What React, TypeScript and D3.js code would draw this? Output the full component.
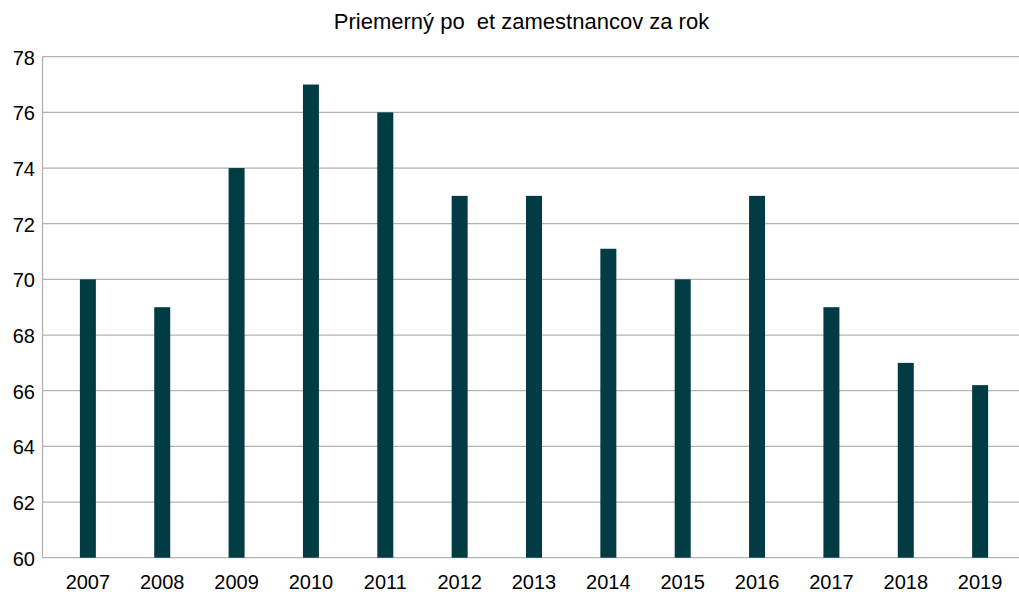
import React, { useEffect, useRef } from "react";
import * as d3 from "d3";

const years = ["2007", "2008", "2009", "2010", "2011", "2012", "2013", "2014", "2015", "2016", "2017", "2018", "2019"];
const employees = [70, 69, 74, 77, 76, 73, 73, 71.1, 70, 73, 69, 67, 66.2];
const yTicks = [60, 62, 64, 66, 68, 70, 72, 74, 76, 78];
const title = "Priemerný po  et zamestnancov za rok";

const App = () => {
  const ref = useRef<SVGSVGElement>(null);

  useEffect(() => {
    const width = 1019;
    const height = 592;
    const left = 42.5;
    const top = 56.7;
    const bottom = 557.7;

    const svg = d3.select(ref.current)
      .attr("width", width)
      .attr("height", height);
    svg.selectAll("*").remove();

    const x = d3.scaleBand()
      .domain(years)
      .range([50.7, 1017.3])
      .padding(0);

    const y = d3.scaleLinear()
      .domain([60, 78])
      .range([bottom, top]);

    // grid
    svg.append("g")
      .selectAll("line")
      .data(yTicks)
      .enter()
      .append("line")
      .attr("x1", left)
      .attr("x2", width)
      .attr("y1", d => y(d))
      .attr("y2", d => y(d))
      .attr("stroke", "#b3b3b3")
      .attr("stroke-width", 1.3);

    svg.append("line")
      .attr("x1", left)
      .attr("x2", left)
      .attr("y1", top)
      .attr("y2", bottom)
      .attr("stroke", "#b3b3b3")
      .attr("stroke-width", 1.3);

    const barW = 16;
    svg.append("g")
      .selectAll("rect")
      .data(employees)
      .enter()
      .append("rect")
      .attr("x", (d, i) => x(years[i])! + x.bandwidth() / 2 - barW / 2)
      .attr("y", d => y(d))
      .attr("width", barW)
      .attr("height", d => bottom - y(d))
      .attr("fill", "#013c44");

    // y labels
    svg.append("g")
      .selectAll("text")
      .data(yTicks)
      .enter()
      .append("text")
      .attr("x", 35)
      .attr("y", d => y(d) + 8)
      .attr("text-anchor", "end")
      .style("font-family", "'Liberation Sans', Arial, sans-serif")
      .style("font-size", "20px")
      .attr("fill", "#000")
      .text(d => d);

    // x labels
    svg.append("g")
      .selectAll("text")
      .data(years)
      .enter()
      .append("text")
      .attr("x", d => x(d)! + x.bandwidth() / 2)
      .attr("y", 588.5)
      .attr("text-anchor", "middle")
      .style("font-family", "'Liberation Sans', Arial, sans-serif")
      .style("font-size", "20px")
      .attr("fill", "#000")
      .text(d => d);

    svg.append("text")
      .attr("x", 521.5)
      .attr("y", 28.5)
      .attr("text-anchor", "middle")
      .style("font-family", "'Liberation Sans', Arial, sans-serif")
      .style("font-size", "22px")
      .style("white-space", "pre")
      .attr("xml:space", "preserve")
      .attr("fill", "#000")
      .text(title);
  }, []);

  return (
    <svg ref={ref} style={{ position: "absolute", left: 0, top: 0, display: "block", background: "#fff" }} />
  );
};

export default App;
